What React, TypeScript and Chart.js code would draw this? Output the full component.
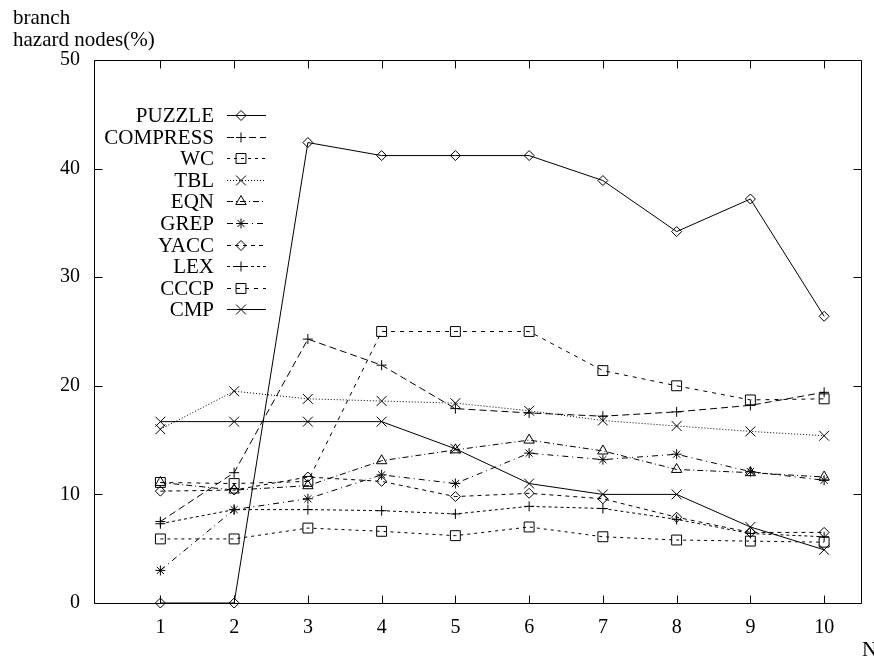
import React, { useEffect, useRef } from 'react';
import { Chart, registerables } from 'chart.js';
import { drawPoint } from 'chart.js/helpers';

Chart.register(...registerables);

const FONT = "'Liberation Serif', 'Times New Roman', serif";

// ---- data ----
const xValues = [1, 2, 3, 4, 5, 6, 7, 8, 9, 10];
const xTicks = [1, 2, 3, 4, 5, 6, 7, 8, 9, 10];
const yTicks = [0, 10, 20, 30, 40, 50];

const PUZZLE = [0, 0, 42.4, 41.2, 41.2, 41.2, 38.9, 34.2, 37.2, 26.4];
const COMPRESS = [7.5, 12.0, 24.3, 21.9, 17.9, 17.5, 17.2, 17.6, 18.2, 19.4];
const WC = [5.9, 5.9, 6.9, 6.6, 6.2, 7.0, 6.1, 5.8, 5.7, 5.6];
const TBL = [16.0, 19.5, 18.8, 18.6, 18.4, 17.7, 16.8, 16.3, 15.8, 15.4];
const EQN = [11.1, 10.4, 10.8, 13.1, 14.1, 15.0, 14.0, 12.3, 12.0, 11.6];
const GREP = [3.0, 8.6, 9.6, 11.8, 11.0, 13.8, 13.2, 13.7, 12.1, 11.3];
const YACC = [10.3, 10.4, 11.6, 11.2, 9.8, 10.1, 9.6, 7.9, 6.5, 6.5];
const LEX = [7.3, 8.6, 8.6, 8.5, 8.2, 8.9, 8.7, 7.7, 6.4, 6.1];
const CCCP = [11.1, 11.0, 11.2, 25.0, 25.0, 25.0, 21.4, 20.0, 18.7, 18.8];
const CMP = [16.7, 16.7, 16.7, 16.7, 14.2, 11.0, 10.0, 10.0, 7.0, 4.9];

const seriesNames = ['PUZZLE', 'COMPRESS', 'WC', 'TBL', 'EQN', 'GREP', 'YACC', 'LEX', 'CCCP', 'CMP'];
const seriesValues = [PUZZLE, COMPRESS, WC, TBL, EQN, GREP, YACC, LEX, CCCP, CMP];

// ---- styles ----
const dashes: number[][] = [
  [],
  [7, 4],
  [3, 4],
  [1, 2],
  [6, 3, 1, 3],
  [6, 4, 1, 4],
  [4, 4],
  [3, 3],
  [4, 5],
  [],
];
const pointStyles = ['rectRot', 'cross', 'rect', 'crossRot', 'triangle', 'star', 'rectRot', 'cross', 'rect', 'crossRot'];
const pointRadii = [5, 5, 7, 7, 6, 5, 5, 5, 7, 7];

const framePlugin = {
  id: 'gnuFrame',
  afterDatasetsDraw(chart: any) {
    const { ctx, chartArea: a, scales } = chart;
    ctx.save();
    ctx.strokeStyle = '#000';
    ctx.lineWidth = 1;
    ctx.setLineDash([]);
    const L = Math.round(a.left) + 0.5;
    const R = Math.round(a.right) + 0.5;
    const T = Math.round(a.top) + 0.5;
    const B = Math.round(a.bottom) + 0.5;
    ctx.beginPath();
    ctx.rect(L, T, R - L, B - T);
    ctx.stroke();
    const tl = 8;
    ctx.beginPath();
    xTicks.forEach((v) => {
      const px = Math.round(scales.x.getPixelForValue(v)) + 0.5;
      ctx.moveTo(px, B);
      ctx.lineTo(px, B - tl);
      ctx.moveTo(px, T);
      ctx.lineTo(px, T + tl);
    });
    yTicks.forEach((v) => {
      const py = Math.round(scales.y.getPixelForValue(v)) + 0.5;
      ctx.moveTo(L, py);
      ctx.lineTo(L + tl, py);
      ctx.moveTo(R, py);
      ctx.lineTo(R - tl, py);
    });
    ctx.stroke();

    // axis titles
    ctx.fillStyle = '#000';
    ctx.font = `21px ${FONT}`;
    ctx.textAlign = 'left';
    ctx.textBaseline = 'alphabetic';
    ctx.fillText('branch', 13, 24);
    ctx.fillText('hazard nodes(%)', 13, 46);
    ctx.fillText('N', 862, 656);

    // legend
    chart.data.datasets.forEach((ds: any, i: number) => {
      const y = Math.round(115 + i * 21.6) + 0.5;
      ctx.font = `21px ${FONT}`;
      ctx.textAlign = 'right';
      ctx.textBaseline = 'middle';
      ctx.fillStyle = '#000';
      ctx.fillText(ds.label, 214, y + 1);
      ctx.strokeStyle = '#000';
      ctx.lineWidth = 1;
      ctx.setLineDash(ds.borderDash || []);
      ctx.beginPath();
      ctx.moveTo(227, y);
      ctx.lineTo(266, y);
      ctx.stroke();
      ctx.setLineDash([]);
      ctx.fillStyle = 'rgba(0,0,0,0)';
      drawPoint(ctx, { pointStyle: ds.pointStyle, radius: ds.pointRadius, borderWidth: 1, rotation: 0 } as any, 241, y);
    });
    ctx.restore();
  },
};

export default function App() {
  const ref = useRef<HTMLCanvasElement>(null);
  useEffect(() => {
    document.body.style.margin = '0';
    const canvas = ref.current!;
    const datasets = seriesNames.map((name, i) => ({
      label: name,
      data: xValues.map((x, j) => ({ x, y: seriesValues[i][j] })),
      borderColor: '#000',
      borderWidth: 1,
      borderDash: dashes[i],
      pointStyle: pointStyles[i],
      pointRadius: pointRadii[i],
      pointBorderColor: '#000',
      pointBorderWidth: 1,
      pointBackgroundColor: 'rgba(0,0,0,0)',
      tension: 0,
      fill: false,
      clip: false as any,
    }));
    const chart = new Chart(canvas, {
      type: 'line',
      data: { datasets },
      plugins: [framePlugin],
      options: {
        responsive: false,
        animation: false,
        devicePixelRatio: 1,
        layout: { padding: { left: 0, top: 60, right: 13, bottom: 0 } },
        plugins: { legend: { display: false }, tooltip: { enabled: false } },
        scales: {
          x: {
            type: 'linear',
            min: 0.1,
            max: 10.5,
            afterBuildTicks: (s: any) => {
              s.ticks = xTicks.map((v) => ({ value: v }));
            },
            afterFit: (s: any) => {
              s.height = 53;
            },
            grid: { display: false, drawTicks: false },
            border: { display: false },
            ticks: { color: '#000', font: { family: FONT, size: 20 }, padding: 13, maxRotation: 0, autoSkip: false },
          },
          y: {
            type: 'linear',
            min: 0,
            max: 50,
            afterBuildTicks: (s: any) => {
              s.ticks = yTicks.map((v) => ({ value: v }));
            },
            afterFit: (s: any) => {
              s.width = 94;
            },
            grid: { display: false, drawTicks: false },
            border: { display: false },
            ticks: { color: '#000', font: { family: FONT, size: 20 }, padding: 14 },
          },
        },
      },
    });
    return () => chart.destroy();
  }, []);
  return <canvas ref={ref} width={874} height={656} style={{ display: 'block' }} />;
}
